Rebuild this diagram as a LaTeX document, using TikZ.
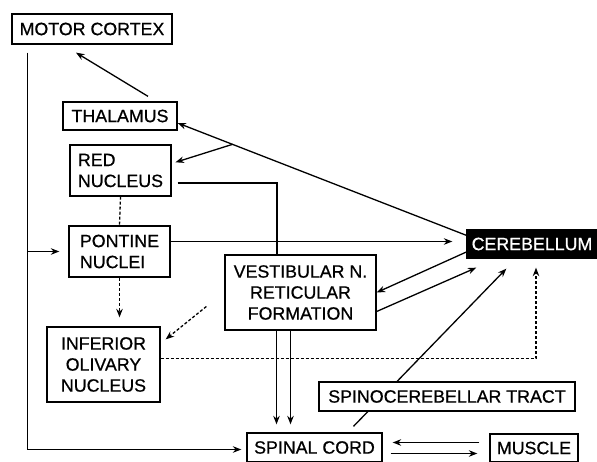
\documentclass[tikz,border=0pt]{standalone}
\usepackage{fontspec}
\setmainfont{Liberation Sans}
\newfontfamily\schemafont{Liberation Sans}[FakeBold=0.7]
\usetikzlibrary{arrows.meta, positioning, calc}

\begin{document}
\begin{tikzpicture}[x=1pt, y=-1pt, >={Stealth[length=8.5pt,width=6.5pt]}, line width=1.3pt,
    bloc/.style={draw, line width=1.3pt, fill=white, inner sep=0pt, align=left,
      font=\schemafont\fontsize{17.8}{21}\selectfont},
    pointille/.style={dash pattern=on 3pt off 2pt}]
  \useasboundingbox (0,0) rectangle (597,462);
  % Blocs de gauche
  \node[bloc, minimum width=160pt, minimum height=30pt] (mc) at (92,29) {MOTOR CORTEX};
  \node[bloc, minimum width=114pt, minimum height=28pt] (th) at (120,116) {THALAMUS};
  \node[bloc, minimum width=101pt, minimum height=51pt] (rn) at (120.5,170.5) {RED\\NUCLEUS};
  \node[bloc, minimum width=101pt, minimum height=51pt] (pn) at (119.5,251.5) {PONTINE\\NUCLEI};
  \node[bloc, align=center, minimum width=113pt, minimum height=75pt] (io) at (103.5,364.5) {INFERIOR\\OLIVARY\\NUCLEUS};
  % Blocs du centre et de droite
  \node[bloc, align=center, minimum width=151pt, minimum height=75pt] (vr) at (300.5,292.5) {VESTIBULAR N.\\RETICULAR\\FORMATION};
  \node[bloc, fill=black, text=white, minimum width=130pt, minimum height=28pt] (cb) at (532,244) {CEREBELLUM};
  \node[bloc, minimum width=135pt, minimum height=29pt] (sc) at (314.5,447.5) {SPINAL CORD};
  \node[bloc, minimum width=88pt, minimum height=28pt] (mu) at (534,448) {MUSCLE};
  % Voie motrice directe
  \coordinate (lft) at ([xshift=16pt,yshift=-8pt]mc.south west);
  \draw[->, shorten >=5pt] (lft) |- ([yshift=-2pt]sc.west);
  \draw[->, shorten >=9pt] (lft |- pn.west) -- (pn.west);
  % Thalamus
  \draw[->] ([xshift=28pt,yshift=5pt]th.north) -- ([xshift=-16pt,yshift=-8pt]mc.south);
  \draw[->] ([yshift=-6pt]cb.north west) -- coordinate[pos=0.81] (br) ([yshift=-7pt]th.east);
  \draw[->, shorten >=4pt] (br) -- ([yshift=7pt]rn.east);
  % Red nucleus
  \draw ([xshift=6pt,yshift=-12.5pt]rn.east) -| ([xshift=-23.5pt]vr.north);
  \draw[pointille] (rn.south) -- (pn.north);
  % Pontine nuclei
  \draw[->, shorten >=14pt] ([yshift=10pt]pn.east) -- ([yshift=10pt]pn.east -| cb.west);
  \draw[->, pointille, shorten >=9pt] (pn.south) -- (pn.south |- io.north);
  % Olive
  \draw[->, pointille] ([xshift=-18pt,yshift=-14pt]vr.west) -- ([xshift=5pt,yshift=-13pt]io.north east);
  \draw[->, pointille, shorten >=9pt] ([yshift=6pt]io.east) -| ([xshift=4pt]cb.south);
  % Vestibular / reticular
  \draw[->] ([yshift=-8pt]cb.west) -- (vr.east);
  \draw[->] ([yshift=-19pt]vr.east) -- ([xshift=10pt,yshift=-9pt]cb.south west);
  \draw[->, shorten >=8pt] ([xshift=-24pt]vr.south) -- ([xshift=-24pt]vr.south |- sc.north);
  \draw[->, shorten >=8pt] ([xshift=-10pt]vr.south) -- ([xshift=-10pt]vr.south |- sc.north);
  % Spinocerebellar tract (box drawn over the line)
  \draw[->] ([xshift=39pt,yshift=6pt]sc.north) -- ([xshift=40pt,yshift=-10pt]cb.south west);
  \node[bloc, minimum width=256pt, minimum height=29pt] (st) at (447,396.5) {SPINOCEREBELLAR TRACT};
  % Spinal cord <-> muscle
  \draw[->, shorten <=10pt, shorten >=10pt] ([yshift=5pt]sc.east -| mu.west) -- ([yshift=5pt]sc.east);
  \draw[->, shorten <=8pt, shorten >=12pt] ([yshift=-6pt]sc.east) -- ([yshift=-6pt]sc.east -| mu.west);
\end{tikzpicture}
\end{document}
